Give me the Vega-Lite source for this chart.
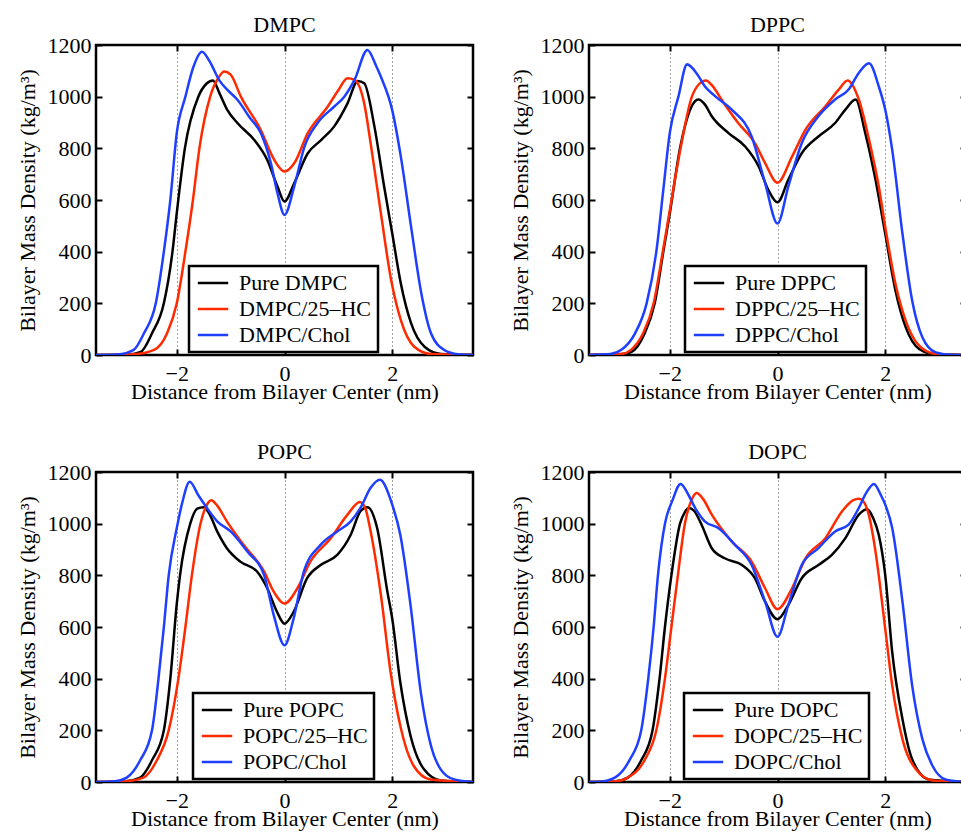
{
"$schema":"https://vega.github.io/schema/vega-lite/v6.json",
"padding":{"left":14,"top":12,"right":0,"bottom":0},
"background":"white",
"datasets":{"d":[
{"m":"DMPC","s":"a","x":-3.5,"y":0},{"m":"DMPC","s":"a","x":-2.9,"y":2},{"m":"DMPC","s":"a","x":-2.67,"y":12},{"m":"DMPC","s":"a","x":-2.46,"y":84},{"m":"DMPC","s":"a","x":-2.24,"y":200},{"m":"DMPC","s":"a","x":-2.08,"y":400},{"m":"DMPC","s":"a","x":-2.0,"y":550},{"m":"DMPC","s":"a","x":-1.85,"y":800},{"m":"DMPC","s":"a","x":-1.6,"y":1000},{"m":"DMPC","s":"a","x":-1.45,"y":1050},{"m":"DMPC","s":"a","x":-1.33,"y":1063},{"m":"DMPC","s":"a","x":-1.2,"y":1010},{"m":"DMPC","s":"a","x":-1.06,"y":948},{"m":"DMPC","s":"a","x":-0.87,"y":897},{"m":"DMPC","s":"a","x":-0.56,"y":832},{"m":"DMPC","s":"a","x":-0.32,"y":755},{"m":"DMPC","s":"a","x":-0.13,"y":652},{"m":"DMPC","s":"a","x":0,"y":594},{"m":"DMPC","s":"a","x":0.18,"y":665},{"m":"DMPC","s":"a","x":0.43,"y":780},{"m":"DMPC","s":"a","x":0.68,"y":832},{"m":"DMPC","s":"a","x":0.92,"y":884},{"m":"DMPC","s":"a","x":1.17,"y":974},{"m":"DMPC","s":"a","x":1.36,"y":1061},{"m":"DMPC","s":"a","x":1.48,"y":1052},{"m":"DMPC","s":"a","x":1.67,"y":884},{"m":"DMPC","s":"a","x":1.85,"y":652},{"m":"DMPC","s":"a","x":2.0,"y":471},{"m":"DMPC","s":"a","x":2.16,"y":277},{"m":"DMPC","s":"a","x":2.35,"y":123},{"m":"DMPC","s":"a","x":2.6,"y":32},{"m":"DMPC","s":"a","x":2.91,"y":4},{"m":"DMPC","s":"a","x":3.5,"y":0},
{"m":"DMPC","s":"b","x":-3.5,"y":0},{"m":"DMPC","s":"b","x":-2.8,"y":3},{"m":"DMPC","s":"b","x":-2.42,"y":20},{"m":"DMPC","s":"b","x":-2.18,"y":84},{"m":"DMPC","s":"b","x":-2.0,"y":200},{"m":"DMPC","s":"b","x":-1.84,"y":400},{"m":"DMPC","s":"b","x":-1.7,"y":600},{"m":"DMPC","s":"b","x":-1.58,"y":800},{"m":"DMPC","s":"b","x":-1.38,"y":1000},{"m":"DMPC","s":"b","x":-1.22,"y":1075},{"m":"DMPC","s":"b","x":-1.12,"y":1097},{"m":"DMPC","s":"b","x":-1.0,"y":1085},{"m":"DMPC","s":"b","x":-0.81,"y":1000},{"m":"DMPC","s":"b","x":-0.44,"y":871},{"m":"DMPC","s":"b","x":-0.19,"y":755},{"m":"DMPC","s":"b","x":0,"y":710},{"m":"DMPC","s":"b","x":0.18,"y":742},{"m":"DMPC","s":"b","x":0.43,"y":858},{"m":"DMPC","s":"b","x":0.8,"y":961},{"m":"DMPC","s":"b","x":1.0,"y":1025},{"m":"DMPC","s":"b","x":1.17,"y":1071},{"m":"DMPC","s":"b","x":1.3,"y":1065},{"m":"DMPC","s":"b","x":1.48,"y":974},{"m":"DMPC","s":"b","x":1.6,"y":819},{"m":"DMPC","s":"b","x":1.79,"y":548},{"m":"DMPC","s":"b","x":1.98,"y":290},{"m":"DMPC","s":"b","x":2.16,"y":135},{"m":"DMPC","s":"b","x":2.41,"y":32},{"m":"DMPC","s":"b","x":2.72,"y":4},{"m":"DMPC","s":"b","x":3.5,"y":0},
{"m":"DMPC","s":"c","x":-3.5,"y":0},{"m":"DMPC","s":"c","x":-3.1,"y":2},{"m":"DMPC","s":"c","x":-2.8,"y":20},{"m":"DMPC","s":"c","x":-2.61,"y":84},{"m":"DMPC","s":"c","x":-2.39,"y":200},{"m":"DMPC","s":"c","x":-2.24,"y":400},{"m":"DMPC","s":"c","x":-2.12,"y":600},{"m":"DMPC","s":"c","x":-2.0,"y":860},{"m":"DMPC","s":"c","x":-1.84,"y":1000},{"m":"DMPC","s":"c","x":-1.7,"y":1110},{"m":"DMPC","s":"c","x":-1.53,"y":1174},{"m":"DMPC","s":"c","x":-1.4,"y":1140},{"m":"DMPC","s":"c","x":-1.2,"y":1060},{"m":"DMPC","s":"c","x":-1.06,"y":1026},{"m":"DMPC","s":"c","x":-0.87,"y":987},{"m":"DMPC","s":"c","x":-0.65,"y":920},{"m":"DMPC","s":"c","x":-0.44,"y":859},{"m":"DMPC","s":"c","x":-0.25,"y":740},{"m":"DMPC","s":"c","x":-0.13,"y":626},{"m":"DMPC","s":"c","x":0,"y":542},{"m":"DMPC","s":"c","x":0.18,"y":652},{"m":"DMPC","s":"c","x":0.37,"y":806},{"m":"DMPC","s":"c","x":0.61,"y":897},{"m":"DMPC","s":"c","x":0.92,"y":961},{"m":"DMPC","s":"c","x":1.11,"y":1000},{"m":"DMPC","s":"c","x":1.3,"y":1065},{"m":"DMPC","s":"c","x":1.54,"y":1181},{"m":"DMPC","s":"c","x":1.7,"y":1120},{"m":"DMPC","s":"c","x":1.79,"y":1077},{"m":"DMPC","s":"c","x":2.0,"y":948},{"m":"DMPC","s":"c","x":2.16,"y":768},{"m":"DMPC","s":"c","x":2.35,"y":497},{"m":"DMPC","s":"c","x":2.54,"y":239},{"m":"DMPC","s":"c","x":2.72,"y":84},{"m":"DMPC","s":"c","x":2.97,"y":19},{"m":"DMPC","s":"c","x":3.22,"y":3},{"m":"DMPC","s":"c","x":3.5,"y":0},
{"m":"DPPC","s":"a","x":-3.5,"y":0},{"m":"DPPC","s":"a","x":-2.88,"y":4},{"m":"DPPC","s":"a","x":-2.71,"y":12},{"m":"DPPC","s":"a","x":-2.47,"y":82},{"m":"DPPC","s":"a","x":-2.28,"y":200},{"m":"DPPC","s":"a","x":-2.12,"y":400},{"m":"DPPC","s":"a","x":-2.0,"y":548},{"m":"DPPC","s":"a","x":-1.81,"y":800},{"m":"DPPC","s":"a","x":-1.6,"y":960},{"m":"DPPC","s":"a","x":-1.47,"y":989},{"m":"DPPC","s":"a","x":-1.35,"y":970},{"m":"DPPC","s":"a","x":-1.22,"y":924},{"m":"DPPC","s":"a","x":-0.91,"y":859},{"m":"DPPC","s":"a","x":-0.6,"y":807},{"m":"DPPC","s":"a","x":-0.35,"y":730},{"m":"DPPC","s":"a","x":-0.17,"y":639},{"m":"DPPC","s":"a","x":0,"y":591},{"m":"DPPC","s":"a","x":0.2,"y":678},{"m":"DPPC","s":"a","x":0.45,"y":781},{"m":"DPPC","s":"a","x":0.76,"y":846},{"m":"DPPC","s":"a","x":1.07,"y":898},{"m":"DPPC","s":"a","x":1.26,"y":950},{"m":"DPPC","s":"a","x":1.45,"y":989},{"m":"DPPC","s":"a","x":1.63,"y":859},{"m":"DPPC","s":"a","x":1.82,"y":678},{"m":"DPPC","s":"a","x":2.0,"y":470},{"m":"DPPC","s":"a","x":2.19,"y":250},{"m":"DPPC","s":"a","x":2.38,"y":108},{"m":"DPPC","s":"a","x":2.63,"y":23},{"m":"DPPC","s":"a","x":2.88,"y":4},{"m":"DPPC","s":"a","x":3.5,"y":0},
{"m":"DPPC","s":"b","x":-3.5,"y":0},{"m":"DPPC","s":"b","x":-2.9,"y":4},{"m":"DPPC","s":"b","x":-2.72,"y":20},{"m":"DPPC","s":"b","x":-2.5,"y":82},{"m":"DPPC","s":"b","x":-2.3,"y":200},{"m":"DPPC","s":"b","x":-2.13,"y":400},{"m":"DPPC","s":"b","x":-2.0,"y":560},{"m":"DPPC","s":"b","x":-1.8,"y":800},{"m":"DPPC","s":"b","x":-1.59,"y":1000},{"m":"DPPC","s":"b","x":-1.45,"y":1050},{"m":"DPPC","s":"b","x":-1.33,"y":1063},{"m":"DPPC","s":"b","x":-1.2,"y":1040},{"m":"DPPC","s":"b","x":-1.04,"y":989},{"m":"DPPC","s":"b","x":-0.73,"y":898},{"m":"DPPC","s":"b","x":-0.42,"y":820},{"m":"DPPC","s":"b","x":-0.23,"y":743},{"m":"DPPC","s":"b","x":0,"y":667},{"m":"DPPC","s":"b","x":0.27,"y":768},{"m":"DPPC","s":"b","x":0.52,"y":872},{"m":"DPPC","s":"b","x":0.89,"y":963},{"m":"DPPC","s":"b","x":1.14,"y":1028},{"m":"DPPC","s":"b","x":1.3,"y":1063},{"m":"DPPC","s":"b","x":1.51,"y":989},{"m":"DPPC","s":"b","x":1.7,"y":833},{"m":"DPPC","s":"b","x":1.88,"y":652},{"m":"DPPC","s":"b","x":2.0,"y":496},{"m":"DPPC","s":"b","x":2.19,"y":276},{"m":"DPPC","s":"b","x":2.38,"y":133},{"m":"DPPC","s":"b","x":2.63,"y":36},{"m":"DPPC","s":"b","x":2.94,"y":4},{"m":"DPPC","s":"b","x":3.5,"y":0},
{"m":"DPPC","s":"c","x":-3.5,"y":0},{"m":"DPPC","s":"c","x":-3.1,"y":4},{"m":"DPPC","s":"c","x":-2.9,"y":20},{"m":"DPPC","s":"c","x":-2.65,"y":82},{"m":"DPPC","s":"c","x":-2.43,"y":200},{"m":"DPPC","s":"c","x":-2.25,"y":400},{"m":"DPPC","s":"c","x":-2.12,"y":640},{"m":"DPPC","s":"c","x":-2.0,"y":860},{"m":"DPPC","s":"c","x":-1.84,"y":1000},{"m":"DPPC","s":"c","x":-1.68,"y":1125},{"m":"DPPC","s":"c","x":-1.5,"y":1090},{"m":"DPPC","s":"c","x":-1.35,"y":1040},{"m":"DPPC","s":"c","x":-1.16,"y":1002},{"m":"DPPC","s":"c","x":-0.85,"y":950},{"m":"DPPC","s":"c","x":-0.48,"y":846},{"m":"DPPC","s":"c","x":-0.23,"y":665},{"m":"DPPC","s":"c","x":0,"y":509},{"m":"DPPC","s":"c","x":0.2,"y":652},{"m":"DPPC","s":"c","x":0.45,"y":820},{"m":"DPPC","s":"c","x":0.76,"y":924},{"m":"DPPC","s":"c","x":1.07,"y":989},{"m":"DPPC","s":"c","x":1.32,"y":1028},{"m":"DPPC","s":"c","x":1.51,"y":1092},{"m":"DPPC","s":"c","x":1.7,"y":1129},{"m":"DPPC","s":"c","x":1.88,"y":1040},{"m":"DPPC","s":"c","x":2.0,"y":950},{"m":"DPPC","s":"c","x":2.13,"y":794},{"m":"DPPC","s":"c","x":2.32,"y":470},{"m":"DPPC","s":"c","x":2.5,"y":211},{"m":"DPPC","s":"c","x":2.69,"y":69},{"m":"DPPC","s":"c","x":2.94,"y":10},{"m":"DPPC","s":"c","x":3.2,"y":1},{"m":"DPPC","s":"c","x":3.5,"y":0},
{"m":"POPC","s":"a","x":-3.5,"y":0},{"m":"POPC","s":"a","x":-2.95,"y":3},{"m":"POPC","s":"a","x":-2.68,"y":17},{"m":"POPC","s":"a","x":-2.46,"y":84},{"m":"POPC","s":"a","x":-2.24,"y":200},{"m":"POPC","s":"a","x":-2.12,"y":400},{"m":"POPC","s":"a","x":-2.0,"y":690},{"m":"POPC","s":"a","x":-1.94,"y":800},{"m":"POPC","s":"a","x":-1.75,"y":1000},{"m":"POPC","s":"a","x":-1.62,"y":1058},{"m":"POPC","s":"a","x":-1.5,"y":1064},{"m":"POPC","s":"a","x":-1.4,"y":1040},{"m":"POPC","s":"a","x":-1.25,"y":970},{"m":"POPC","s":"a","x":-1.07,"y":905},{"m":"POPC","s":"a","x":-0.82,"y":853},{"m":"POPC","s":"a","x":-0.51,"y":815},{"m":"POPC","s":"a","x":-0.32,"y":750},{"m":"POPC","s":"a","x":-0.14,"y":659},{"m":"POPC","s":"a","x":0,"y":613},{"m":"POPC","s":"a","x":0.17,"y":659},{"m":"POPC","s":"a","x":0.42,"y":789},{"m":"POPC","s":"a","x":0.67,"y":840},{"m":"POPC","s":"a","x":0.98,"y":879},{"m":"POPC","s":"a","x":1.23,"y":957},{"m":"POPC","s":"a","x":1.41,"y":1048},{"m":"POPC","s":"a","x":1.54,"y":1064},{"m":"POPC","s":"a","x":1.72,"y":983},{"m":"POPC","s":"a","x":1.91,"y":737},{"m":"POPC","s":"a","x":2.0,"y":633},{"m":"POPC","s":"a","x":2.15,"y":386},{"m":"POPC","s":"a","x":2.34,"y":179},{"m":"POPC","s":"a","x":2.59,"y":49},{"m":"POPC","s":"a","x":2.9,"y":6},{"m":"POPC","s":"a","x":3.5,"y":0},
{"m":"POPC","s":"b","x":-3.5,"y":0},{"m":"POPC","s":"b","x":-2.95,"y":3},{"m":"POPC","s":"b","x":-2.62,"y":17},{"m":"POPC","s":"b","x":-2.37,"y":84},{"m":"POPC","s":"b","x":-2.15,"y":200},{"m":"POPC","s":"b","x":-1.97,"y":400},{"m":"POPC","s":"b","x":-1.84,"y":600},{"m":"POPC","s":"b","x":-1.72,"y":800},{"m":"POPC","s":"b","x":-1.56,"y":1000},{"m":"POPC","s":"b","x":-1.45,"y":1070},{"m":"POPC","s":"b","x":-1.36,"y":1091},{"m":"POPC","s":"b","x":-1.25,"y":1070},{"m":"POPC","s":"b","x":-1.07,"y":1009},{"m":"POPC","s":"b","x":-0.76,"y":918},{"m":"POPC","s":"b","x":-0.38,"y":815},{"m":"POPC","s":"b","x":-0.2,"y":737},{"m":"POPC","s":"b","x":0,"y":691},{"m":"POPC","s":"b","x":0.24,"y":750},{"m":"POPC","s":"b","x":0.48,"y":853},{"m":"POPC","s":"b","x":0.86,"y":944},{"m":"POPC","s":"b","x":1.17,"y":1035},{"m":"POPC","s":"b","x":1.4,"y":1084},{"m":"POPC","s":"b","x":1.5,"y":1060},{"m":"POPC","s":"b","x":1.6,"y":970},{"m":"POPC","s":"b","x":1.79,"y":724},{"m":"POPC","s":"b","x":1.97,"y":425},{"m":"POPC","s":"b","x":2.15,"y":218},{"m":"POPC","s":"b","x":2.4,"y":62},{"m":"POPC","s":"b","x":2.71,"y":10},{"m":"POPC","s":"b","x":3.5,"y":0},
{"m":"POPC","s":"c","x":-3.5,"y":0},{"m":"POPC","s":"c","x":-3.15,"y":3},{"m":"POPC","s":"c","x":-2.93,"y":17},{"m":"POPC","s":"c","x":-2.68,"y":84},{"m":"POPC","s":"c","x":-2.46,"y":200},{"m":"POPC","s":"c","x":-2.34,"y":400},{"m":"POPC","s":"c","x":-2.24,"y":600},{"m":"POPC","s":"c","x":-2.15,"y":800},{"m":"POPC","s":"c","x":-2.0,"y":983},{"m":"POPC","s":"c","x":-1.9,"y":1080},{"m":"POPC","s":"c","x":-1.76,"y":1162},{"m":"POPC","s":"c","x":-1.6,"y":1110},{"m":"POPC","s":"c","x":-1.44,"y":1061},{"m":"POPC","s":"c","x":-1.25,"y":1009},{"m":"POPC","s":"c","x":-1.0,"y":970},{"m":"POPC","s":"c","x":-0.69,"y":892},{"m":"POPC","s":"c","x":-0.38,"y":802},{"m":"POPC","s":"c","x":-0.2,"y":646},{"m":"POPC","s":"c","x":0,"y":529},{"m":"POPC","s":"c","x":0.17,"y":633},{"m":"POPC","s":"c","x":0.36,"y":815},{"m":"POPC","s":"c","x":0.67,"y":918},{"m":"POPC","s":"c","x":0.98,"y":970},{"m":"POPC","s":"c","x":1.23,"y":1009},{"m":"POPC","s":"c","x":1.41,"y":1061},{"m":"POPC","s":"c","x":1.6,"y":1139},{"m":"POPC","s":"c","x":1.77,"y":1170},{"m":"POPC","s":"c","x":2.0,"y":1074},{"m":"POPC","s":"c","x":2.15,"y":957},{"m":"POPC","s":"c","x":2.34,"y":685},{"m":"POPC","s":"c","x":2.53,"y":348},{"m":"POPC","s":"c","x":2.72,"y":140},{"m":"POPC","s":"c","x":2.9,"y":49},{"m":"POPC","s":"c","x":3.15,"y":10},{"m":"POPC","s":"c","x":3.5,"y":0},
{"m":"DOPC","s":"a","x":-3.5,"y":0},{"m":"DOPC","s":"a","x":-3.0,"y":3},{"m":"DOPC","s":"a","x":-2.78,"y":17},{"m":"DOPC","s":"a","x":-2.53,"y":84},{"m":"DOPC","s":"a","x":-2.32,"y":200},{"m":"DOPC","s":"a","x":-2.19,"y":400},{"m":"DOPC","s":"a","x":-2.09,"y":600},{"m":"DOPC","s":"a","x":-1.97,"y":800},{"m":"DOPC","s":"a","x":-1.81,"y":1000},{"m":"DOPC","s":"a","x":-1.72,"y":1045},{"m":"DOPC","s":"a","x":-1.65,"y":1061},{"m":"DOPC","s":"a","x":-1.55,"y":1050},{"m":"DOPC","s":"a","x":-1.41,"y":996},{"m":"DOPC","s":"a","x":-1.22,"y":905},{"m":"DOPC","s":"a","x":-0.98,"y":866},{"m":"DOPC","s":"a","x":-0.66,"y":840},{"m":"DOPC","s":"a","x":-0.42,"y":789},{"m":"DOPC","s":"a","x":-0.23,"y":698},{"m":"DOPC","s":"a","x":0,"y":630},{"m":"DOPC","s":"a","x":0.2,"y":685},{"m":"DOPC","s":"a","x":0.45,"y":789},{"m":"DOPC","s":"a","x":0.76,"y":840},{"m":"DOPC","s":"a","x":1.01,"y":879},{"m":"DOPC","s":"a","x":1.26,"y":944},{"m":"DOPC","s":"a","x":1.51,"y":1035},{"m":"DOPC","s":"a","x":1.66,"y":1056},{"m":"DOPC","s":"a","x":1.78,"y":1020},{"m":"DOPC","s":"a","x":1.88,"y":957},{"m":"DOPC","s":"a","x":2.0,"y":802},{"m":"DOPC","s":"a","x":2.13,"y":503},{"m":"DOPC","s":"a","x":2.32,"y":244},{"m":"DOPC","s":"a","x":2.5,"y":88},{"m":"DOPC","s":"a","x":2.81,"y":10},{"m":"DOPC","s":"a","x":3.5,"y":0},
{"m":"DOPC","s":"b","x":-3.5,"y":0},{"m":"DOPC","s":"b","x":-3.0,"y":3},{"m":"DOPC","s":"b","x":-2.78,"y":17},{"m":"DOPC","s":"b","x":-2.47,"y":84},{"m":"DOPC","s":"b","x":-2.25,"y":200},{"m":"DOPC","s":"b","x":-2.09,"y":400},{"m":"DOPC","s":"b","x":-1.97,"y":600},{"m":"DOPC","s":"b","x":-1.85,"y":800},{"m":"DOPC","s":"b","x":-1.72,"y":1000},{"m":"DOPC","s":"b","x":-1.6,"y":1090},{"m":"DOPC","s":"b","x":-1.5,"y":1119},{"m":"DOPC","s":"b","x":-1.38,"y":1095},{"m":"DOPC","s":"b","x":-1.22,"y":1035},{"m":"DOPC","s":"b","x":-0.85,"y":931},{"m":"DOPC","s":"b","x":-0.48,"y":853},{"m":"DOPC","s":"b","x":-0.23,"y":750},{"m":"DOPC","s":"b","x":0,"y":669},{"m":"DOPC","s":"b","x":0.27,"y":750},{"m":"DOPC","s":"b","x":0.52,"y":866},{"m":"DOPC","s":"b","x":0.89,"y":944},{"m":"DOPC","s":"b","x":1.2,"y":1048},{"m":"DOPC","s":"b","x":1.4,"y":1090},{"m":"DOPC","s":"b","x":1.51,"y":1096},{"m":"DOPC","s":"b","x":1.6,"y":1085},{"m":"DOPC","s":"b","x":1.7,"y":1030},{"m":"DOPC","s":"b","x":1.82,"y":892},{"m":"DOPC","s":"b","x":2.0,"y":594},{"m":"DOPC","s":"b","x":2.13,"y":374},{"m":"DOPC","s":"b","x":2.32,"y":166},{"m":"DOPC","s":"b","x":2.57,"y":49},{"m":"DOPC","s":"b","x":2.88,"y":6},{"m":"DOPC","s":"b","x":3.5,"y":0},
{"m":"DOPC","s":"c","x":-3.5,"y":0},{"m":"DOPC","s":"c","x":-3.3,"y":1},{"m":"DOPC","s":"c","x":-3.02,"y":17},{"m":"DOPC","s":"c","x":-2.75,"y":84},{"m":"DOPC","s":"c","x":-2.53,"y":200},{"m":"DOPC","s":"c","x":-2.4,"y":400},{"m":"DOPC","s":"c","x":-2.3,"y":600},{"m":"DOPC","s":"c","x":-2.22,"y":800},{"m":"DOPC","s":"c","x":-2.09,"y":1000},{"m":"DOPC","s":"c","x":-1.95,"y":1090},{"m":"DOPC","s":"c","x":-1.8,"y":1154},{"m":"DOPC","s":"c","x":-1.65,"y":1110},{"m":"DOPC","s":"c","x":-1.53,"y":1061},{"m":"DOPC","s":"c","x":-1.35,"y":1009},{"m":"DOPC","s":"c","x":-1.1,"y":983},{"m":"DOPC","s":"c","x":-0.79,"y":918},{"m":"DOPC","s":"c","x":-0.48,"y":840},{"m":"DOPC","s":"c","x":-0.23,"y":698},{"m":"DOPC","s":"c","x":0,"y":562},{"m":"DOPC","s":"c","x":0.2,"y":685},{"m":"DOPC","s":"c","x":0.45,"y":840},{"m":"DOPC","s":"c","x":0.76,"y":905},{"m":"DOPC","s":"c","x":1.07,"y":970},{"m":"DOPC","s":"c","x":1.32,"y":996},{"m":"DOPC","s":"c","x":1.51,"y":1061},{"m":"DOPC","s":"c","x":1.65,"y":1120},{"m":"DOPC","s":"c","x":1.79,"y":1154},{"m":"DOPC","s":"c","x":1.92,"y":1110},{"m":"DOPC","s":"c","x":2.0,"y":1074},{"m":"DOPC","s":"c","x":2.13,"y":983},{"m":"DOPC","s":"c","x":2.32,"y":698},{"m":"DOPC","s":"c","x":2.5,"y":374},{"m":"DOPC","s":"c","x":2.69,"y":166},{"m":"DOPC","s":"c","x":2.88,"y":62},{"m":"DOPC","s":"c","x":3.12,"y":10},{"m":"DOPC","s":"c","x":3.5,"y":0}
]},
"data":{"name":"d"},
"columns":2,
"spacing":{"row":35,"column":31},
"resolve":{"scale":{"color":"independent"},"legend":{"color":"independent"}},
"concat":[
{"width":377,"height":310,"title":"DMPC","transform":[{"filter":"datum.m==='DMPC'"}],
 "resolve":{"axis":{"x":"independent","y":"independent"}},
 "layer":[
 {"mark":{"type":"line","interpolate":"monotone","strokeWidth":2.5,"clip":true},
 "encoding":{"x":{"field":"x","type":"quantitative","scale":{"domain":[-3.5,3.5],"nice":false,"zero":false},"axis":{"values":[-2,0,2],"title":"Distance from Bilayer Center (nm)"}},
  "y":{"field":"y","type":"quantitative","scale":{"domain":[0,1200],"nice":false},"axis":{"values":[0,200,400,600,800,1000,1200],"format":"d","title":"Bilayer Mass Density (kg/m³)"}},
  "color":{"field":"s","type":"nominal","scale":{"domain":["a","b","c"],"range":["#000000","#ff2a00","#1f3fff"]},"legend":{"legendX":93,"legendY":221,"labelExpr":"datum.value==='a'?'Pure DMPC':datum.value==='b'?'DMPC/25–HC':'DMPC/Chol'"}}}},
 {"mark":{"type":"line","opacity":0},
 "encoding":{"x":{"field":"x","type":"quantitative","scale":{"domain":[-3.5,3.5],"nice":false,"zero":false},"axis":{"orient":"top","values":[-2,0,2],"labels":false,"grid":false,"title":null}},
  "y":{"field":"y","type":"quantitative","scale":{"domain":[0,1200],"nice":false},"axis":{"orient":"right","values":[0,200,400,600,800,1000,1200],"labels":false,"title":null}},
  "detail":{"field":"s"}}}
 ]},
{"width":377,"height":310,"title":"DPPC","transform":[{"filter":"datum.m==='DPPC'"}],
 "resolve":{"axis":{"x":"independent","y":"independent"}},
 "layer":[
 {"mark":{"type":"line","interpolate":"monotone","strokeWidth":2.5,"clip":true},
 "encoding":{"x":{"field":"x","type":"quantitative","scale":{"domain":[-3.5,3.5],"nice":false,"zero":false},"axis":{"values":[-2,0,2],"title":"Distance from Bilayer Center (nm)"}},
  "y":{"field":"y","type":"quantitative","scale":{"domain":[0,1200],"nice":false},"axis":{"values":[0,200,400,600,800,1000,1200],"format":"d","title":"Bilayer Mass Density (kg/m³)"}},
  "color":{"field":"s","type":"nominal","scale":{"domain":["a","b","c"],"range":["#000000","#ff2a00","#1f3fff"]},"legend":{"legendX":96,"legendY":221,"labelExpr":"datum.value==='a'?'Pure DPPC':datum.value==='b'?'DPPC/25–HC':'DPPC/Chol'"}}}},
 {"mark":{"type":"line","opacity":0},
 "encoding":{"x":{"field":"x","type":"quantitative","scale":{"domain":[-3.5,3.5],"nice":false,"zero":false},"axis":{"orient":"top","values":[-2,0,2],"labels":false,"grid":false,"title":null}},
  "y":{"field":"y","type":"quantitative","scale":{"domain":[0,1200],"nice":false},"axis":{"orient":"right","values":[0,200,400,600,800,1000,1200],"labels":false,"title":null}},
  "detail":{"field":"s"}}}
 ]},
{"width":377,"height":310,"title":"POPC","transform":[{"filter":"datum.m==='POPC'"}],
 "resolve":{"axis":{"x":"independent","y":"independent"}},
 "layer":[
 {"mark":{"type":"line","interpolate":"monotone","strokeWidth":2.5,"clip":true},
 "encoding":{"x":{"field":"x","type":"quantitative","scale":{"domain":[-3.5,3.5],"nice":false,"zero":false},"axis":{"values":[-2,0,2],"title":"Distance from Bilayer Center (nm)"}},
  "y":{"field":"y","type":"quantitative","scale":{"domain":[0,1200],"nice":false},"axis":{"values":[0,200,400,600,800,1000,1200],"format":"d","title":"Bilayer Mass Density (kg/m³)"}},
  "color":{"field":"s","type":"nominal","scale":{"domain":["a","b","c"],"range":["#000000","#ff2a00","#1f3fff"]},"legend":{"legendX":97,"legendY":221,"labelExpr":"datum.value==='a'?'Pure POPC':datum.value==='b'?'POPC/25–HC':'POPC/Chol'"}}}},
 {"mark":{"type":"line","opacity":0},
 "encoding":{"x":{"field":"x","type":"quantitative","scale":{"domain":[-3.5,3.5],"nice":false,"zero":false},"axis":{"orient":"top","values":[-2,0,2],"labels":false,"grid":false,"title":null}},
  "y":{"field":"y","type":"quantitative","scale":{"domain":[0,1200],"nice":false},"axis":{"orient":"right","values":[0,200,400,600,800,1000,1200],"labels":false,"title":null}},
  "detail":{"field":"s"}}}
 ]},
{"width":377,"height":310,"title":"DOPC","transform":[{"filter":"datum.m==='DOPC'"}],
 "resolve":{"axis":{"x":"independent","y":"independent"}},
 "layer":[
 {"mark":{"type":"line","interpolate":"monotone","strokeWidth":2.5,"clip":true},
 "encoding":{"x":{"field":"x","type":"quantitative","scale":{"domain":[-3.5,3.5],"nice":false,"zero":false},"axis":{"values":[-2,0,2],"title":"Distance from Bilayer Center (nm)"}},
  "y":{"field":"y","type":"quantitative","scale":{"domain":[0,1200],"nice":false},"axis":{"values":[0,200,400,600,800,1000,1200],"format":"d","title":"Bilayer Mass Density (kg/m³)"}},
  "color":{"field":"s","type":"nominal","scale":{"domain":["a","b","c"],"range":["#000000","#ff2a00","#1f3fff"]},"legend":{"legendX":95,"legendY":221,"labelExpr":"datum.value==='a'?'Pure DOPC':datum.value==='b'?'DOPC/25–HC':'DOPC/Chol'"}}}},
 {"mark":{"type":"line","opacity":0},
 "encoding":{"x":{"field":"x","type":"quantitative","scale":{"domain":[-3.5,3.5],"nice":false,"zero":false},"axis":{"orient":"top","values":[-2,0,2],"labels":false,"grid":false,"title":null}},
  "y":{"field":"y","type":"quantitative","scale":{"domain":[0,1200],"nice":false},"axis":{"orient":"right","values":[0,200,400,600,800,1000,1200],"labels":false,"title":null}},
  "detail":{"field":"s"}}}
 ]}
],
"config":{
 "font":"Liberation Serif",
 "view":{"stroke":"#000000","strokeWidth":2.5},
 "title":{"font":"Liberation Serif","fontSize":22,"fontWeight":"normal","color":"#000000","offset":-3},
 "axis":{"domain":false,"grid":false,"ticks":true,"tickSize":-6,"tickWidth":2,"tickColor":"#000000","labelPadding":11,"labelFont":"Liberation Serif","labelFontSize":22,"labelColor":"#000000","titleFont":"Liberation Serif","titleFontSize":22,"titleFontWeight":"normal","titleColor":"#000000","titlePadding":2},
 "axisX":{"grid":true,"gridColor":"#444444","gridDash":[1,3],"gridWidth":1,"titlePadding":-3,"labelPadding":14},
 "axisY":{"titlePadding":8},
 "legend":{"orient":"none","title":null,"strokeColor":"#000000","strokeWidth":2.5,"fillColor":"#ffffff","padding":6,"symbolType":"M-2,0H2","symbolSize":231,"symbolOffset":7,"symbolStrokeWidth":2.5,"labelFont":"Liberation Serif","labelFontSize":22,"labelColor":"#000000","rowPadding":4,"labelOffset":15}
}
}
